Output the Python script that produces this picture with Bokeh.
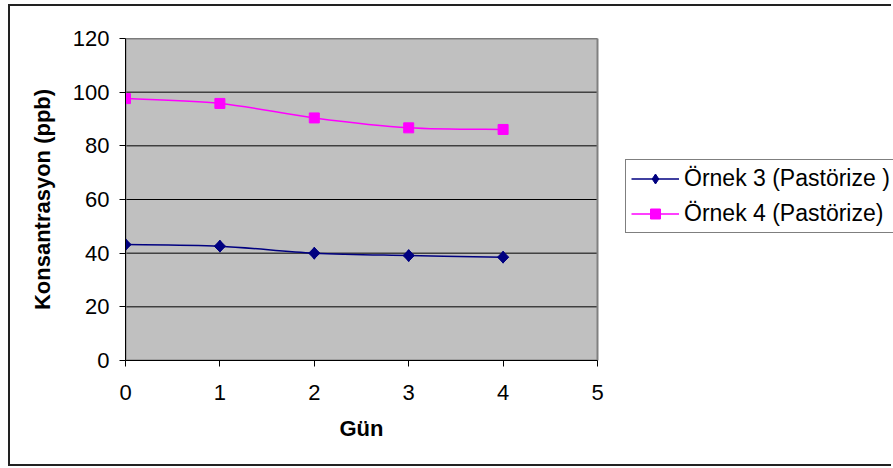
import numpy as np
from bokeh.plotting import figure
from bokeh.models import (Range1d, FixedTicker, Legend, LegendItem,
                          ColumnDataSource, Title)
from bokeh.embed import file_html
from bokeh.resources import INLINE

# ---- data ----
days = [0, 1, 2, 3, 4]
ornek3 = [43.2, 42.6, 40.0, 39.1, 38.5]
ornek4 = [97.6, 95.8, 90.4, 86.7, 86.1]
x_ticks = [0, 1, 2, 3, 4, 5]
y_ticks = [0, 20, 40, 60, 80, 100, 120]
series_names = ["Örnek 3 (Pastörize )", "Örnek 4 (Pastörize)"]
x_title = "Gün"
y_title = "Konsantrasyon (ppb)"

FONT = "Liberation Sans"

# layout (pixels)
FIG_W, FIG_H = 883, 462
LEFT, TOP, BOTTOM = 115, 32, 108
PLOT_W = 472                      # width of the grey plot area
FRAME_W = FIG_W - LEFT            # frame reaches the right edge (legend lives in it)

x0, x1 = x_ticks[0], x_ticks[-1]
y0, y1 = y_ticks[0], y_ticks[-1]
x_end = x0 + (x1 - x0) * FRAME_W / PLOT_W


def bezier_source(xs, ys):
    """Smoothed-line segments (Excel style) from the data points."""
    n = len(xs)
    d = dict(x0=[], y0=[], x1=[], y1=[], cx0=[], cy0=[], cx1=[], cy1=[])
    for i in range(n - 1):
        a = max(i - 1, 0)
        b = min(i + 2, n - 1)
        d["x0"].append(xs[i]); d["y0"].append(ys[i])
        d["x1"].append(xs[i + 1]); d["y1"].append(ys[i + 1])
        d["cx0"].append(xs[i] + (xs[i + 1] - xs[a]) / 6)
        d["cy0"].append(ys[i] + (ys[i + 1] - ys[a]) / 6)
        d["cx1"].append(xs[i + 1] - (xs[b] - xs[i]) / 6)
        d["cy1"].append(ys[i + 1] - (ys[b] - ys[i]) / 6)
    return ColumnDataSource(d)


p = figure(width=FIG_W, height=FIG_H, output_backend="svg", toolbar_location=None,
           x_range=Range1d(x0, x_end), y_range=Range1d(y0, y1),
           min_border_left=LEFT, min_border_top=TOP, min_border_right=0,
           min_border_bottom=BOTTOM)
p.styles = {"margin-left": "8px", "margin-top": "4px",
            "border-left": "2px solid #222", "border-top": "2px solid #222",
            "border-bottom": "2px solid #222"}

p.background_fill_color = "white"
p.border_fill_color = "white"
p.outline_line_color = None
p.xgrid.visible = False
p.ygrid.visible = False

# grey plot area, grid lines, plot-area border
p.quad(left=x0, right=x1, bottom=y0, top=y1, fill_color="#C0C0C0",
       line_color=None)
p.segment(x0=[x0] * len(y_ticks), x1=[x1] * len(y_ticks), y0=y_ticks,
          y1=y_ticks, line_color="black", line_width=1)
p.quad(left=x0, right=x1, bottom=y0, top=y1, fill_color=None,
       line_color="#808080", line_width=2)

for ax in (p.xaxis[0], p.yaxis[0]):
    ax.axis_line_color = "black"
    ax.axis_line_width = 1
    ax.major_tick_line_color = "black"
    ax.major_tick_out = 6
    ax.major_tick_in = 0
    ax.minor_tick_line_color = None
    ax.major_label_text_font = FONT
    ax.major_label_text_font_size = "22px"
    ax.major_label_text_color = "black"
    ax.axis_label_text_font = FONT
    ax.axis_label_text_font_style = "bold"
    ax.axis_label_text_font_size = "22px"
    ax.axis_label_text_color = "black"

p.xaxis[0].ticker = FixedTicker(ticks=x_ticks)
p.xaxis[0].bounds = (x0, x1)
p.yaxis[0].ticker = FixedTicker(ticks=y_ticks)
p.xaxis[0].major_label_standoff = 18
p.yaxis[0].major_label_standoff = 10
p.yaxis[0].axis_label = y_title
p.yaxis[0].axis_label_standoff = 15

p.add_layout(Title(text=x_title, align="left", offset=214, standoff=22,
                   text_font=FONT, text_font_style="bold",
                   text_font_size="22px", text_color="black"), "below")

colors = ["#000080", "#FF00FF"]
items = []

# Örnek 3: smoothed line + diamond markers
bz3 = p.bezier(x0="x0", y0="y0", x1="x1", y1="y1", cx0="cx0", cy0="cy0",
               cx1="cx1", cy1="cy1", source=bezier_source(days, ornek3),
               line_color=colors[0], line_width=1.5)
dm3 = p.scatter(days, ornek3, marker="diamond", size=12,
                fill_color=colors[0], line_color=colors[0])
p.scatter(days, ornek3, marker="square", size=8, angle=np.pi / 4,
          fill_color=colors[0], line_color=colors[0])
items.append(LegendItem(label=series_names[0], renderers=[bz3, dm3]))

# Örnek 4: smoothed line + square markers
bz4 = p.bezier(x0="x0", y0="y0", x1="x1", y1="y1", cx0="cx0", cy0="cy0",
               cx1="cx1", cy1="cy1", source=bezier_source(days, ornek4),
               line_color=colors[1], line_width=1.5)
sq4 = p.scatter(days, ornek4, marker="square", size=10,
                fill_color=colors[1], line_color=colors[1])
items.append(LegendItem(label=series_names[1], renderers=[bz4, sq4]))

legend = Legend(items=items, location=(500, 127), orientation="vertical",
                label_text_font=FONT, label_text_font_size="23px",
                label_text_color="black", label_height=25, label_standoff=5,
                glyph_width=48, glyph_height=25, spacing=8, padding=5,
                margin=0, border_line_color="black", border_line_width=1,
                background_fill_color="white", background_fill_alpha=1)
p.add_layout(legend)

open("out.html", "w").write(file_html(p, INLINE))
